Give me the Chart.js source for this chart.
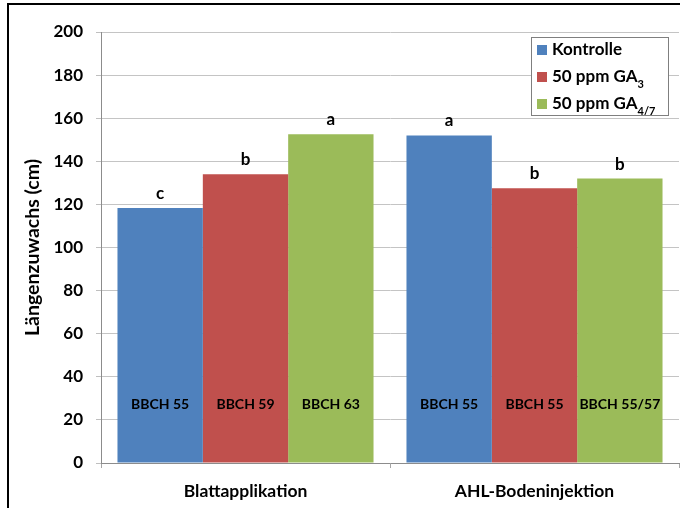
<!DOCTYPE html>
<html>
<head>
<meta charset="utf-8">
<script src="https://cdn.jsdelivr.net/npm/chart.js@4.4.1/dist/chart.umd.min.js"></script>
<style>
  body { margin: 0; background: #fff; }
  #wrap { position: relative; width: 680px; height: 508px; overflow: hidden; }
  #frame { position: absolute; left: 7px; top: 3px; width: 700px; height: 520px;
           border-left: 2px solid #000; border-top: 2px solid #000; pointer-events: none; }
  canvas { position: absolute; left: 0; top: 0; }
</style>
</head>
<body>
<div id="wrap">
  <canvas id="chart" width="680" height="508"></canvas>
  <div id="frame"></div>
</div>
<script>
const categories = ['Blattapplikation', 'AHL-Bodeninjektion'];
const seriesNames = ['Kontrolle', '50 ppm GA', '50 ppm GA'];
const seriesSubs = ['', '3', '4/7'];
const colors = ['#4F81BD', '#C0504D', '#9BBB59'];

const kontrolle = [118.3, 152.0];
const ga3 = [134.0, 127.5];
const ga47 = [152.5, 132.0];

// significance letters above the bars
const lettersKontrolle = ['c', 'a'];
const lettersGa3 = ['b', 'b'];
const lettersGa47 = ['a', 'b'];

// growth stage labels inside the bars
const bbchKontrolle = ['BBCH 55', 'BBCH 55'];
const bbchGa3 = ['BBCH 59', 'BBCH 55'];
const bbchGa47 = ['BBCH 63', 'BBCH 55/57'];

const yTicks = [0, 20, 40, 60, 80, 100, 120, 140, 160, 180, 200];

const FONT = 'Lato, "Open Sans", sans-serif';
const letters = [lettersKontrolle, lettersGa3, lettersGa47];
const bbch = [bbchKontrolle, bbchGa3, bbchGa47];

const barText = {
    id: 'barText',
    afterDatasetsDraw(chart) {
        const ctx = chart.ctx;
        const y = chart.scales.y;
        ctx.save();
        ctx.textAlign = 'center';
        chart.data.datasets.forEach((ds, i) => {
            chart.getDatasetMeta(i).data.forEach((bar, j) => {
                ctx.fillStyle = '#000';
                ctx.textBaseline = 'alphabetic';
                ctx.font = 'bold 17px ' + FONT;
                ctx.fillText(letters[i][j], bar.x, bar.y - 9);
                ctx.textBaseline = 'middle';
                ctx.font = 'bold 14px ' + FONT;
                ctx.fillText(bbch[i][j], bar.x, y.getPixelForValue(27));
            });
        });
        ctx.restore();
    }
};

const subLegend = {
    id: 'subLegend',
    afterDraw(chart) {
        const ctx = chart.ctx;
        const left = 531, top = 37, w = 137, h = 78;
        ctx.save();
        ctx.fillStyle = '#fff';
        ctx.fillRect(left, top, w, h);
        ctx.strokeStyle = '#7f7f7f';
        ctx.lineWidth = 1;
        ctx.strokeRect(left + 0.5, top + 0.5, w, h);
        seriesNames.forEach((name, i) => {
            const cy = top + 13 + i * 27;
            ctx.fillStyle = colors[i];
            ctx.fillRect(left + 6, cy - 5, 10, 10);
            ctx.fillStyle = '#000';
            ctx.textBaseline = 'middle';
            ctx.textAlign = 'left';
            ctx.font = 'bold 17px ' + FONT;
            ctx.fillText(name, left + 21, cy);
            if (seriesSubs[i]) {
                const tw = ctx.measureText(name).width;
                ctx.font = 'bold 11px ' + FONT;
                ctx.fillText(seriesSubs[i], left + 21 + tw, cy + 7);
            }
        });
        ctx.restore();
    }
};

new Chart(document.getElementById('chart'), {
    type: 'bar',
    data: {
        labels: categories,
        datasets: [
            { label: seriesNames[0], data: kontrolle, backgroundColor: colors[0] },
            { label: seriesNames[1] + seriesSubs[1], data: ga3, backgroundColor: colors[1] },
            { label: seriesNames[2] + seriesSubs[2], data: ga47, backgroundColor: colors[2] }
        ]
    },
    options: {
        responsive: false,
        animation: false,
        layout: { padding: { top: 32, right: 1, left: 0, bottom: 0 } },
        datasets: { bar: { categoryPercentage: 0.886, barPercentage: 1.0 } },
        scales: {
            x: {
                grid: { offset: true, drawOnChartArea: false, drawTicks: true, tickLength: 5, color: '#a6a6a6' },
                border: { color: '#8c8c8c' },
                ticks: { color: '#000', font: { family: FONT, size: 17.5, weight: 'bold' }, padding: 13 },
                afterFit(scale) { scale.height = 45; }
            },
            y: {
                min: 0, max: 200,
                afterBuildTicks(scale) { scale.ticks = yTicks.map(v => ({ value: v })); },
                grid: { color: '#c4c4c4', tickLength: 5, tickColor: '#bfbfbf' },
                border: { color: '#8c8c8c' },
                ticks: { color: '#000', font: { family: FONT, size: 17, weight: 'bold' }, padding: 13 },
                title: { display: true, text: 'Längenzuwachs (cm)', color: '#000',
                         font: { family: FONT, size: 19.5, weight: 'bold' }, padding: { top: 21, bottom: 4 } },
                afterFit(scale) { scale.width = 101; }
            }
        },
        plugins: {
            legend: { display: false },
            tooltip: { enabled: false }
        }
    },
    plugins: [barText, subLegend]
});
</script>
</body>
</html>
